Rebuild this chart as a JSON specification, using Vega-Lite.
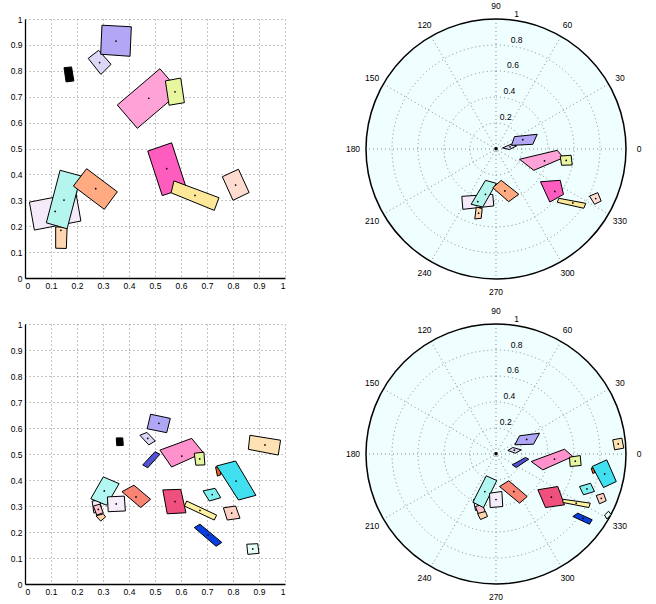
{
"$schema": "https://vega.github.io/schema/vega-lite/v6.json",
"padding": {"left": 10, "top": 1, "right": 4, "bottom": 4},
"background": "white",
"config": {
  "view": {"stroke": null},
  "axis": {"grid": true, "gridColor": "#8a8a8a", "gridDash": [1, 3], "gridWidth": 1, "domainColor": "#000", "domainWidth": 1.3, "ticks": false, "labelPadding": 3, "labelOverlap": false, "labelFont": "Liberation Sans", "labelFontSize": 8.5, "labelColor": "#000", "title": null}
},
"resolve": {"scale": {"color": "independent", "radius": "independent"}},
"datasets": {
  "tl": [
    {"id":"a","o":0,"x":0.15,"y":0.812},{"id":"a","o":1,"x":0.179,"y":0.815},{"id":"a","o":2,"x":0.188,"y":0.761},{"id":"a","o":3,"x":0.158,"y":0.757},
    {"id":"b","o":0,"x":0.243,"y":0.848},{"id":"b","o":1,"x":0.283,"y":0.879},{"id":"b","o":2,"x":0.331,"y":0.825},{"id":"b","o":3,"x":0.292,"y":0.786},
    {"id":"c","o":0,"x":0.296,"y":0.976},{"id":"c","o":1,"x":0.409,"y":0.970},{"id":"c","o":2,"x":0.404,"y":0.856},{"id":"c","o":3,"x":0.291,"y":0.864},
    {"id":"d","o":0,"x":0.355,"y":0.668},{"id":"d","o":1,"x":0.519,"y":0.808},{"id":"d","o":2,"x":0.596,"y":0.718},{"id":"d","o":3,"x":0.432,"y":0.578},
    {"id":"e","o":0,"x":0.540,"y":0.761},{"id":"e","o":1,"x":0.599,"y":0.772},{"id":"e","o":2,"x":0.613,"y":0.677},{"id":"e","o":3,"x":0.554,"y":0.667},
    {"id":"f","o":0,"x":0.017,"y":0.293},{"id":"f","o":1,"x":0.196,"y":0.328},{"id":"f","o":2,"x":0.215,"y":0.220},{"id":"f","o":3,"x":0.036,"y":0.185},
    {"id":"g","o":0,"x":0.118,"y":0.197},{"id":"g","o":1,"x":0.162,"y":0.197},{"id":"g","o":2,"x":0.159,"y":0.114},{"id":"g","o":3,"x":0.118,"y":0.115},
    {"id":"h","o":0,"x":0.135,"y":0.416},{"id":"h","o":1,"x":0.215,"y":0.394},{"id":"h","o":2,"x":0.162,"y":0.190},{"id":"h","o":3,"x":0.082,"y":0.213},
    {"id":"i","o":0,"x":0.186,"y":0.355},{"id":"i","o":1,"x":0.237,"y":0.422},{"id":"i","o":2,"x":0.355,"y":0.333},{"id":"i","o":3,"x":0.305,"y":0.265},
    {"id":"j","o":0,"x":0.472,"y":0.490},{"id":"j","o":1,"x":0.564,"y":0.522},{"id":"j","o":2,"x":0.620,"y":0.349},{"id":"j","o":3,"x":0.528,"y":0.318},
    {"id":"k","o":0,"x":0.573,"y":0.375},{"id":"k","o":1,"x":0.746,"y":0.310},{"id":"k","o":2,"x":0.728,"y":0.261},{"id":"k","o":3,"x":0.562,"y":0.329},
    {"id":"l","o":0,"x":0.759,"y":0.391},{"id":"l","o":1,"x":0.821,"y":0.420},{"id":"l","o":2,"x":0.862,"y":0.330},{"id":"l","o":3,"x":0.8,"y":0.300}
  ],
  "tlc": [
    {"x":0.287,"y":0.832},{"x":0.35,"y":0.915},{"x":0.476,"y":0.694},{"x":0.577,"y":0.719},{"x":0.116,"y":0.257},{"x":0.138,"y":0.184},
    {"x":0.15,"y":0.301},{"x":0.272,"y":0.345},{"x":0.545,"y":0.422},{"x":0.654,"y":0.319},{"x":0.81,"y":0.359}
  ],
  "tr": [
    {"id":"a","o":0,"x":-0.008,"y":-0.006},{"id":"a","o":1,"x":0.008,"y":-0.006},{"id":"a","o":2,"x":0.008,"y":0.01},{"id":"a","o":3,"x":-0.008,"y":0.01},
    {"id":"b","o":0,"x":0.05,"y":0.008},{"id":"b","o":1,"x":0.119,"y":0.038},{"id":"b","o":2,"x":0.158,"y":0.023},{"id":"b","o":3,"x":0.104,"y":-0.004},
    {"id":"c","o":0,"x":0.142,"y":0.095},{"id":"c","o":1,"x":0.317,"y":0.113},{"id":"c","o":2,"x":0.283,"y":0.036},{"id":"c","o":3,"x":0.119,"y":0.028},
    {"id":"d","o":0,"x":0.181,"y":-0.079},{"id":"d","o":1,"x":0.471,"y":-0.010},{"id":"d","o":2,"x":0.519,"y":-0.067},{"id":"d","o":3,"x":0.291,"y":-0.164},
    {"id":"e","o":0,"x":0.494,"y":-0.054},{"id":"e","o":1,"x":0.578,"y":-0.048},{"id":"e","o":2,"x":0.586,"y":-0.123},{"id":"e","o":3,"x":0.504,"y":-0.125},
    {"id":"f","o":0,"x":-0.263,"y":-0.364},{"id":"f","o":1,"x":-0.025,"y":-0.349},{"id":"f","o":2,"x":-0.017,"y":-0.438},{"id":"f","o":3,"x":-0.255,"y":-0.464},
    {"id":"g","o":0,"x":-0.152,"y":-0.446},{"id":"g","o":1,"x":-0.106,"y":-0.459},{"id":"g","o":2,"x":-0.114,"y":-0.533},{"id":"g","o":3,"x":-0.163,"y":-0.538},
    {"id":"h","o":0,"x":-0.081,"y":-0.241},{"id":"h","o":1,"x":0.002,"y":-0.264},{"id":"h","o":2,"x":-0.102,"y":-0.446},{"id":"h","o":3,"x":-0.191,"y":-0.425},
    {"id":"i","o":0,"x":-0.025,"y":-0.298},{"id":"i","o":1,"x":0.04,"y":-0.241},{"id":"i","o":2,"x":0.175,"y":-0.348},{"id":"i","o":3,"x":0.098,"y":-0.405},
    {"id":"j","o":0,"x":0.342,"y":-0.252},{"id":"j","o":1,"x":0.494,"y":-0.241},{"id":"j","o":2,"x":0.519,"y":-0.349},{"id":"j","o":3,"x":0.414,"y":-0.408},
    {"id":"k","o":0,"x":0.483,"y":-0.379},{"id":"k","o":1,"x":0.691,"y":-0.418},{"id":"k","o":2,"x":0.675,"y":-0.456},{"id":"k","o":3,"x":0.471,"y":-0.41},
    {"id":"l","o":0,"x":0.719,"y":-0.362},{"id":"l","o":1,"x":0.783,"y":-0.336},{"id":"l","o":2,"x":0.809,"y":-0.4},{"id":"l","o":3,"x":0.758,"y":-0.425}
  ],
  "trc": [
    {"x":0.108,"y":0.016},{"x":0.206,"y":0.072},{"x":0.373,"y":-0.092},{"x":0.54,"y":-0.088},{"x":-0.14,"y":-0.404},{"x":-0.134,"y":-0.494},
    {"x":-0.081,"y":-0.349},{"x":0.068,"y":-0.323},{"x":0.452,"y":-0.326},{"x":0.591,"y":-0.415},{"x":0.767,"y":-0.381}
  ],
  "bl": [
    {"id":"a","o":0,"x":0.351,"y":0.562},{"id":"a","o":1,"x":0.376,"y":0.562},{"id":"a","o":2,"x":0.378,"y":0.533},{"id":"a","o":3,"x":0.353,"y":0.532},
    {"id":"b","o":0,"x":0.442,"y":0.572},{"id":"b","o":1,"x":0.469,"y":0.583},{"id":"b","o":2,"x":0.501,"y":0.55},{"id":"b","o":3,"x":0.476,"y":0.535},
    {"id":"c","o":0,"x":0.483,"y":0.653},{"id":"c","o":1,"x":0.559,"y":0.637},{"id":"c","o":2,"x":0.545,"y":0.582},{"id":"c","o":3,"x":0.470,"y":0.597},
    {"id":"d","o":0,"x":0.453,"y":0.458},{"id":"d","o":1,"x":0.5,"y":0.509},{"id":"d","o":2,"x":0.519,"y":0.499},{"id":"d","o":3,"x":0.472,"y":0.447},
    {"id":"e","o":0,"x":0.519,"y":0.515},{"id":"e","o":1,"x":0.641,"y":0.56},{"id":"e","o":2,"x":0.686,"y":0.505},{"id":"e","o":3,"x":0.564,"y":0.45},
    {"id":"f","o":0,"x":0.651,"y":0.503},{"id":"f","o":1,"x":0.688,"y":0.507},{"id":"f","o":2,"x":0.692,"y":0.458},{"id":"f","o":3,"x":0.657,"y":0.457},
    {"id":"g","o":0,"x":0.865,"y":0.572},{"id":"g","o":1,"x":0.983,"y":0.553},{"id":"g","o":2,"x":0.974,"y":0.496},{"id":"g","o":3,"x":0.859,"y":0.518},
    {"id":"h","o":0,"x":0.733,"y":0.45},{"id":"h","o":1,"x":0.75,"y":0.45},{"id":"h","o":2,"x":0.753,"y":0.42},{"id":"h","o":3,"x":0.74,"y":0.415},
    {"id":"i","o":0,"x":0.737,"y":0.454},{"id":"i","o":1,"x":0.810,"y":0.473},{"id":"i","o":2,"x":0.888,"y":0.341},{"id":"i","o":3,"x":0.821,"y":0.323},
    {"id":"j","o":0,"x":0.53,"y":0.362},{"id":"j","o":1,"x":0.599,"y":0.364},{"id":"j","o":2,"x":0.619,"y":0.274},{"id":"j","o":3,"x":0.547,"y":0.27},
    {"id":"k","o":0,"x":0.685,"y":0.358},{"id":"k","o":1,"x":0.731,"y":0.368},{"id":"k","o":2,"x":0.753,"y":0.332},{"id":"k","o":3,"x":0.709,"y":0.319},
    {"id":"l","o":0,"x":0.622,"y":0.319},{"id":"l","o":1,"x":0.737,"y":0.265},{"id":"l","o":2,"x":0.728,"y":0.246},{"id":"l","o":3,"x":0.613,"y":0.3},
    {"id":"m","o":0,"x":0.763,"y":0.293},{"id":"m","o":1,"x":0.810,"y":0.3},{"id":"m","o":2,"x":0.827,"y":0.253},{"id":"m","o":3,"x":0.778,"y":0.246},
    {"id":"n","o":0,"x":0.651,"y":0.217},{"id":"n","o":1,"x":0.673,"y":0.23},{"id":"n","o":2,"x":0.757,"y":0.16},{"id":"n","o":3,"x":0.735,"y":0.145},
    {"id":"o","o":0,"x":0.853,"y":0.153},{"id":"o","o":1,"x":0.895,"y":0.155},{"id":"o","o":2,"x":0.9,"y":0.118},{"id":"o","o":3,"x":0.857,"y":0.114},
    {"id":"p","o":0,"x":0.258,"y":0.319},{"id":"p","o":1,"x":0.288,"y":0.323},{"id":"p","o":2,"x":0.296,"y":0.277},{"id":"p","o":3,"x":0.265,"y":0.273},
    {"id":"q","o":0,"x":0.263,"y":0.3},{"id":"q","o":1,"x":0.288,"y":0.307},{"id":"q","o":2,"x":0.301,"y":0.274},{"id":"q","o":3,"x":0.276,"y":0.265},
    {"id":"r","o":0,"x":0.273,"y":0.262},{"id":"r","o":1,"x":0.301,"y":0.27},{"id":"r","o":2,"x":0.31,"y":0.258},{"id":"r","o":3,"x":0.291,"y":0.242},
    {"id":"s","o":0,"x":0.253,"y":0.328},{"id":"s","o":1,"x":0.301,"y":0.412},{"id":"s","o":2,"x":0.362,"y":0.386},{"id":"s","o":3,"x":0.314,"y":0.303},
    {"id":"t","o":0,"x":0.317,"y":0.335},{"id":"t","o":1,"x":0.382,"y":0.338},{"id":"t","o":2,"x":0.386,"y":0.281},{"id":"t","o":3,"x":0.32,"y":0.278},
    {"id":"u","o":0,"x":0.373,"y":0.355},{"id":"u","o":1,"x":0.419,"y":0.38},{"id":"u","o":2,"x":0.483,"y":0.326},{"id":"u","o":3,"x":0.445,"y":0.294}
  ],
  "blc": [
    {"x":0.472,"y":0.56},{"x":0.515,"y":0.618},{"x":0.603,"y":0.492},{"x":0.672,"y":0.481},{"x":0.923,"y":0.535},{"x":0.812,"y":0.396},
    {"x":0.577,"y":0.317},{"x":0.72,"y":0.344},{"x":0.673,"y":0.283},{"x":0.795,"y":0.273},{"x":0.704,"y":0.188},{"x":0.876,"y":0.135},
    {"x":0.305,"y":0.358},{"x":0.351,"y":0.308},{"x":0.427,"y":0.335},{"x":0.282,"y":0.287}
  ],
  "br": [
    {"id":"a","o":0,"x":-0.008,"y":-0.006},{"id":"a","o":1,"x":0.008,"y":-0.006},{"id":"a","o":2,"x":0.008,"y":0.01},{"id":"a","o":3,"x":-0.008,"y":0.01},
    {"id":"b","o":0,"x":0.091,"y":0.027},{"id":"b","o":1,"x":0.129,"y":0.05},{"id":"b","o":2,"x":0.194,"y":0.032},{"id":"b","o":3,"x":0.15,"y":0.006},
    {"id":"c","o":0,"x":0.181,"y":0.14},{"id":"c","o":1,"x":0.335,"y":0.16},{"id":"c","o":2,"x":0.288,"y":0.075},{"id":"c","o":3,"x":0.145,"y":0.071},
    {"id":"d","o":0,"x":0.125,"y":-0.083},{"id":"d","o":1,"x":0.227,"y":-0.027},{"id":"d","o":2,"x":0.252,"y":-0.04},{"id":"d","o":3,"x":0.155,"y":-0.104},
    {"id":"e","o":0,"x":0.271,"y":-0.058},{"id":"e","o":1,"x":0.527,"y":0.037},{"id":"e","o":2,"x":0.591,"y":-0.019},{"id":"e","o":3,"x":0.36,"y":-0.122},
    {"id":"f","o":0,"x":0.565,"y":-0.025},{"id":"f","o":1,"x":0.648,"y":-0.012},{"id":"f","o":2,"x":0.655,"y":-0.088},{"id":"f","o":3,"x":0.571,"y":-0.096},
    {"id":"g","o":0,"x":0.898,"y":0.109},{"id":"g","o":1,"x":0.968,"y":0.122},{"id":"g","o":2,"x":0.983,"y":0.045},{"id":"g","o":3,"x":0.912,"y":0.032},
    {"id":"h","o":0,"x":0.732,"y":-0.108},{"id":"h","o":1,"x":0.757,"y":-0.108},{"id":"h","o":2,"x":0.758,"y":-0.145},{"id":"h","o":3,"x":0.745,"y":-0.15},
    {"id":"i","o":0,"x":0.74,"y":-0.096},{"id":"i","o":1,"x":0.852,"y":-0.045},{"id":"i","o":2,"x":0.925,"y":-0.212},{"id":"i","o":3,"x":0.827,"y":-0.258},
    {"id":"j","o":0,"x":0.322,"y":-0.275},{"id":"j","o":1,"x":0.475,"y":-0.25},{"id":"j","o":2,"x":0.527,"y":-0.391},{"id":"j","o":3,"x":0.381,"y":-0.412},
    {"id":"k","o":0,"x":0.642,"y":-0.25},{"id":"k","o":1,"x":0.727,"y":-0.225},{"id":"k","o":2,"x":0.758,"y":-0.288},{"id":"k","o":3,"x":0.673,"y":-0.314},
    {"id":"l","o":0,"x":0.514,"y":-0.348},{"id":"l","o":1,"x":0.725,"y":-0.378},{"id":"l","o":2,"x":0.714,"y":-0.412},{"id":"l","o":3,"x":0.514,"y":-0.373},
    {"id":"m","o":0,"x":0.771,"y":-0.319},{"id":"m","o":1,"x":0.827,"y":-0.302},{"id":"m","o":2,"x":0.848,"y":-0.36},{"id":"m","o":3,"x":0.796,"y":-0.383},
    {"id":"n","o":0,"x":0.591,"y":-0.481},{"id":"n","o":1,"x":0.629,"y":-0.455},{"id":"n","o":2,"x":0.74,"y":-0.506},{"id":"n","o":3,"x":0.719,"y":-0.54},
    {"id":"o","o":0,"x":0.835,"y":-0.47},{"id":"o","o":1,"x":0.866,"y":-0.44},{"id":"o","o":2,"x":0.885,"y":-0.465},{"id":"o","o":3,"x":0.853,"y":-0.5},
    {"id":"p","o":0,"x":-0.173,"y":-0.35},{"id":"p","o":1,"x":-0.112,"y":-0.342},{"id":"p","o":2,"x":-0.096,"y":-0.427},{"id":"p","o":3,"x":-0.158,"y":-0.435},
    {"id":"q","o":0,"x":-0.158,"y":-0.404},{"id":"q","o":1,"x":-0.104,"y":-0.388},{"id":"q","o":2,"x":-0.081,"y":-0.45},{"id":"q","o":3,"x":-0.135,"y":-0.465},
    {"id":"r","o":0,"x":-0.142,"y":-0.458},{"id":"r","o":1,"x":-0.081,"y":-0.442},{"id":"r","o":2,"x":-0.065,"y":-0.481},{"id":"r","o":3,"x":-0.119,"y":-0.504},
    {"id":"s","o":0,"x":-0.178,"y":-0.371},{"id":"s","o":1,"x":-0.075,"y":-0.168},{"id":"s","o":2,"x":0.006,"y":-0.204},{"id":"s","o":3,"x":-0.096,"y":-0.412},
    {"id":"t","o":0,"x":-0.05,"y":-0.302},{"id":"t","o":1,"x":0.045,"y":-0.288},{"id":"t","o":2,"x":0.052,"y":-0.404},{"id":"t","o":3,"x":-0.045,"y":-0.412},
    {"id":"u","o":0,"x":0.027,"y":-0.25},{"id":"u","o":1,"x":0.098,"y":-0.206},{"id":"u","o":2,"x":0.24,"y":-0.327},{"id":"u","o":3,"x":0.181,"y":-0.378}
  ],
  "brc": [
    {"x":0.141,"y":0.029},{"x":0.236,"y":0.112},{"x":0.45,"y":-0.04},{"x":0.61,"y":-0.055},{"x":0.94,"y":0.077},{"x":0.836,"y":-0.153},
    {"x":0.426,"y":-0.332},{"x":0.7,"y":-0.269},{"x":0.617,"y":-0.378},{"x":0.81,"y":-0.341},{"x":0.67,"y":-0.496},{"x":-0.086,"y":-0.289},
    {"x":0.0,"y":-0.35},{"x":0.137,"y":-0.29}
  ],
  "rings": [{"r":0.2},{"r":0.4},{"r":0.6},{"r":0.8}],
  "spokes": [
    {"x":1,"y":0,"x2":-1,"y2":0},{"x":0.866,"y":0.5,"x2":-0.866,"y2":-0.5},{"x":0.5,"y":0.866,"x2":-0.5,"y2":-0.866},
    {"x":0,"y":1,"x2":0,"y2":-1},{"x":-0.5,"y":0.866,"x2":0.5,"y2":-0.866},{"x":-0.866,"y":0.5,"x2":0.866,"y2":-0.5}
  ],
  "alab": [
    {"t":"0","x":1.1,"y":0},{"t":"30","x":0.953,"y":0.55},{"t":"60","x":0.55,"y":0.953},{"t":"90","x":0,"y":1.1},
    {"t":"120","x":-0.55,"y":0.953},{"t":"150","x":-0.953,"y":0.55},{"t":"180","x":-1.1,"y":0},{"t":"210","x":-0.953,"y":-0.55},
    {"t":"240","x":-0.55,"y":-0.953},{"t":"270","x":0,"y":-1.1},{"t":"300","x":0.55,"y":-0.953},{"t":"330","x":0.953,"y":-0.55}
  ],
  "rlab": [
    {"t":"0.2","x":0.0292,"y":0.208},{"t":"0.4","x":0.0571,"y":0.406},{"t":"0.6","x":0.0849,"y":0.604},{"t":"0.8","x":0.1127,"y":0.802},{"t":"1","x":0.1406,"y":1.0002}
  ]
},
"columns": 2,
"spacing": {"row": 45, "column": 55},
"bounds": "flush",
"align": "each",
"concat": [
  {
    "width": 260, "height": 259,
    "layer": [
      {"data": {"name": "tl"},
       "mark": {"type": "line", "filled": true, "interpolate": "linear-closed", "stroke": "black", "strokeWidth": 1, "strokeJoin": "miter"},
       "encoding": {
         "x": {"field": "x", "type": "quantitative", "scale": {"domain": [0, 1], "nice": false}, "axis": {"values": [0,0.1,0.2,0.3,0.4,0.5,0.6,0.7,0.8,0.9,1], "format": "~g", "labelOverlap": false}},
         "y": {"field": "y", "type": "quantitative", "scale": {"domain": [0, 1], "nice": false}, "axis": {"values": [0,0.1,0.2,0.3,0.4,0.5,0.6,0.7,0.8,0.9,1], "format": "~g", "labelOverlap": false}},
         "order": {"field": "o"},
         "color": {"field": "id", "type": "nominal", "legend": null, "scale": {"domain": ["a","b","c","d","e","f","g","h","i","j","k","l"], "range": ["#000000","#ddd6f6","#b2a6f5","#ffa2d8","#e9f6a0","#f5eafa","#ffd6b0","#b4f6ee","#ffaa80","#ff5cc0","#fde89a","#ffdcd0"]}}
       }},
      {"data": {"name": "tlc"}, "mark": {"type": "point", "filled": true, "size": 3, "color": "black", "opacity": 1},
       "encoding": {
         "x": {"field": "x", "type": "quantitative", "scale": {"domain": [0, 1], "nice": false}, "axis": {"values": [0,0.1,0.2,0.3,0.4,0.5,0.6,0.7,0.8,0.9,1], "format": "~g", "labelOverlap": false}},
         "y": {"field": "y", "type": "quantitative", "scale": {"domain": [0, 1], "nice": false}, "axis": {"values": [0,0.1,0.2,0.3,0.4,0.5,0.6,0.7,0.8,0.9,1], "format": "~g", "labelOverlap": false}}}}
    ]
  },
  {
    "width": 312, "height": 260,
    "layer": [
      {"data": {"values": [{"r": 1}]}, "mark": {"type": "arc", "fill": "#effefe", "stroke": null, "theta": 0, "theta2": 6.2832},
       "encoding": {"radius": {"field": "r", "type": "quantitative", "stack": null, "scale": {"type": "linear", "domain": [0, 1], "range": [0, 130], "zero": true}}}},
      {"data": {"name": "rings"}, "mark": {"type": "arc", "filled": false, "stroke": "#8a8a8a", "strokeWidth": 1, "strokeDash": [1, 3], "theta": 0, "theta2": 6.2832},
       "encoding": {"radius": {"field": "r", "type": "quantitative", "stack": null, "scale": {"type": "linear", "domain": [0, 1], "range": [0, 130], "zero": true}}}},
      {"data": {"name": "spokes"}, "mark": {"type": "rule", "color": "#8a8a8a", "strokeWidth": 1, "strokeDash": [1, 3]},
       "encoding": {
         "x": {"field": "x", "type": "quantitative", "scale": {"domain": [-1.2, 1.2], "nice": false, "zero": false}, "axis": null},
         "y": {"field": "y", "type": "quantitative", "scale": {"domain": [-1, 1], "nice": false, "zero": false}, "axis": null},
         "x2": {"field": "x2"}, "y2": {"field": "y2"}}},
      {"data": {"values": [{"r": 1}]}, "mark": {"type": "arc", "filled": false, "stroke": "black", "strokeWidth": 1.5, "theta": 0, "theta2": 6.2832},
       "encoding": {"radius": {"field": "r", "type": "quantitative", "stack": null, "scale": {"type": "linear", "domain": [0, 1], "range": [0, 130], "zero": true}}}},
      {"data": {"name": "tr"},
       "mark": {"type": "line", "filled": true, "interpolate": "linear-closed", "stroke": "black", "strokeWidth": 1, "strokeJoin": "miter"},
       "encoding": {
         "x": {"field": "x", "type": "quantitative"},
         "y": {"field": "y", "type": "quantitative"},
         "order": {"field": "o"},
         "color": {"field": "id", "type": "nominal", "legend": null, "scale": {"domain": ["a","b","c","d","e","f","g","h","i","j","k","l"], "range": ["#000000","#ddd6f6","#b2a6f5","#ffa2d8","#e9f6a0","#f5eafa","#ffd6b0","#b4f6ee","#ffaa80","#ff5cc0","#fde89a","#ffdcd0"]}}
       }},
      {"data": {"name": "trc"}, "mark": {"type": "point", "filled": true, "size": 3, "color": "black", "opacity": 1},
       "encoding": {"x": {"field": "x", "type": "quantitative"}, "y": {"field": "y", "type": "quantitative"}}},
      {"data": {"name": "alab"}, "mark": {"type": "text", "font": "Liberation Sans", "fontSize": 8.5, "color": "#000", "align": "center", "baseline": "middle"},
       "encoding": {"x": {"field": "x", "type": "quantitative"}, "y": {"field": "y", "type": "quantitative"}, "text": {"field": "t"}}},
      {"data": {"name": "rlab"}, "mark": {"type": "text", "font": "Liberation Sans", "fontSize": 8.5, "color": "#000", "align": "left", "baseline": "bottom"},
       "encoding": {"x": {"field": "x", "type": "quantitative"}, "y": {"field": "y", "type": "quantitative"}, "text": {"field": "t"}}}
    ]
  },
  {
    "width": 260, "height": 260,
    "layer": [
      {"data": {"name": "bl"},
       "mark": {"type": "line", "filled": true, "interpolate": "linear-closed", "stroke": "black", "strokeWidth": 1, "strokeJoin": "miter"},
       "encoding": {
         "x": {"field": "x", "type": "quantitative", "scale": {"domain": [0, 1], "nice": false}, "axis": {"values": [0,0.1,0.2,0.3,0.4,0.5,0.6,0.7,0.8,0.9,1], "format": "~g", "labelOverlap": false}},
         "y": {"field": "y", "type": "quantitative", "scale": {"domain": [0, 1], "nice": false}, "axis": {"values": [0,0.1,0.2,0.3,0.4,0.5,0.6,0.7,0.8,0.9,1], "format": "~g", "labelOverlap": false}},
         "order": {"field": "o"},
         "color": {"field": "id", "type": "nominal", "legend": null, "scale": {"domain": ["a","b","c","d","e","f","g","h","i","j","k","l","m","n","o","p","q","r","s","t","u"], "range": ["#000000","#dcd6f7","#b0a6f6","#5252d6","#ff92cc","#e6f6a0","#ffe2b4","#f06020","#40e0f0","#f0507e","#7ff0f0","#fff2a0","#ffd0c4","#0a3ee0","#e6fff6","#f3eaf8","#ffc4cc","#ffd4a8","#b2f7f2","#f5eefa","#fa8474"]}}
       }},
      {"data": {"name": "blc"}, "mark": {"type": "point", "filled": true, "size": 3, "color": "black", "opacity": 1},
       "encoding": {
         "x": {"field": "x", "type": "quantitative", "scale": {"domain": [0, 1], "nice": false}, "axis": {"values": [0,0.1,0.2,0.3,0.4,0.5,0.6,0.7,0.8,0.9,1], "format": "~g", "labelOverlap": false}},
         "y": {"field": "y", "type": "quantitative", "scale": {"domain": [0, 1], "nice": false}, "axis": {"values": [0,0.1,0.2,0.3,0.4,0.5,0.6,0.7,0.8,0.9,1], "format": "~g", "labelOverlap": false}}}}
    ]
  },
  {
    "width": 312, "height": 260,
    "layer": [
      {"data": {"values": [{"r": 1}]}, "mark": {"type": "arc", "fill": "#effefe", "stroke": null, "theta": 0, "theta2": 6.2832},
       "encoding": {"radius": {"field": "r", "type": "quantitative", "stack": null, "scale": {"type": "linear", "domain": [0, 1], "range": [0, 130], "zero": true}}}},
      {"data": {"name": "rings"}, "mark": {"type": "arc", "filled": false, "stroke": "#8a8a8a", "strokeWidth": 1, "strokeDash": [1, 3], "theta": 0, "theta2": 6.2832},
       "encoding": {"radius": {"field": "r", "type": "quantitative", "stack": null, "scale": {"type": "linear", "domain": [0, 1], "range": [0, 130], "zero": true}}}},
      {"data": {"name": "spokes"}, "mark": {"type": "rule", "color": "#8a8a8a", "strokeWidth": 1, "strokeDash": [1, 3]},
       "encoding": {
         "x": {"field": "x", "type": "quantitative", "scale": {"domain": [-1.2, 1.2], "nice": false, "zero": false}, "axis": null},
         "y": {"field": "y", "type": "quantitative", "scale": {"domain": [-1, 1], "nice": false, "zero": false}, "axis": null},
         "x2": {"field": "x2"}, "y2": {"field": "y2"}}},
      {"data": {"values": [{"r": 1}]}, "mark": {"type": "arc", "filled": false, "stroke": "black", "strokeWidth": 1.5, "theta": 0, "theta2": 6.2832},
       "encoding": {"radius": {"field": "r", "type": "quantitative", "stack": null, "scale": {"type": "linear", "domain": [0, 1], "range": [0, 130], "zero": true}}}},
      {"data": {"name": "br"},
       "mark": {"type": "line", "filled": true, "interpolate": "linear-closed", "stroke": "black", "strokeWidth": 1, "strokeJoin": "miter"},
       "encoding": {
         "x": {"field": "x", "type": "quantitative"},
         "y": {"field": "y", "type": "quantitative"},
         "order": {"field": "o"},
         "color": {"field": "id", "type": "nominal", "legend": null, "scale": {"domain": ["a","b","c","d","e","f","g","h","i","j","k","l","m","n","o","p","q","r","s","t","u"], "range": ["#000000","#dcd6f7","#b0a6f6","#5252d6","#ff92cc","#e6f6a0","#ffe2b4","#f06020","#40e0f0","#f0507e","#7ff0f0","#fff2a0","#ffd0c4","#0a3ee0","#e6fff6","#f3eaf8","#ffc4cc","#ffd4a8","#b2f7f2","#f5eefa","#fa8474"]}}
       }},
      {"data": {"name": "brc"}, "mark": {"type": "point", "filled": true, "size": 3, "color": "black", "opacity": 1},
       "encoding": {"x": {"field": "x", "type": "quantitative"}, "y": {"field": "y", "type": "quantitative"}}},
      {"data": {"name": "alab"}, "mark": {"type": "text", "font": "Liberation Sans", "fontSize": 8.5, "color": "#000", "align": "center", "baseline": "middle"},
       "encoding": {"x": {"field": "x", "type": "quantitative"}, "y": {"field": "y", "type": "quantitative"}, "text": {"field": "t"}}},
      {"data": {"name": "rlab"}, "mark": {"type": "text", "font": "Liberation Sans", "fontSize": 8.5, "color": "#000", "align": "left", "baseline": "bottom"},
       "encoding": {"x": {"field": "x", "type": "quantitative"}, "y": {"field": "y", "type": "quantitative"}, "text": {"field": "t"}}}
    ]
  }
]
}
